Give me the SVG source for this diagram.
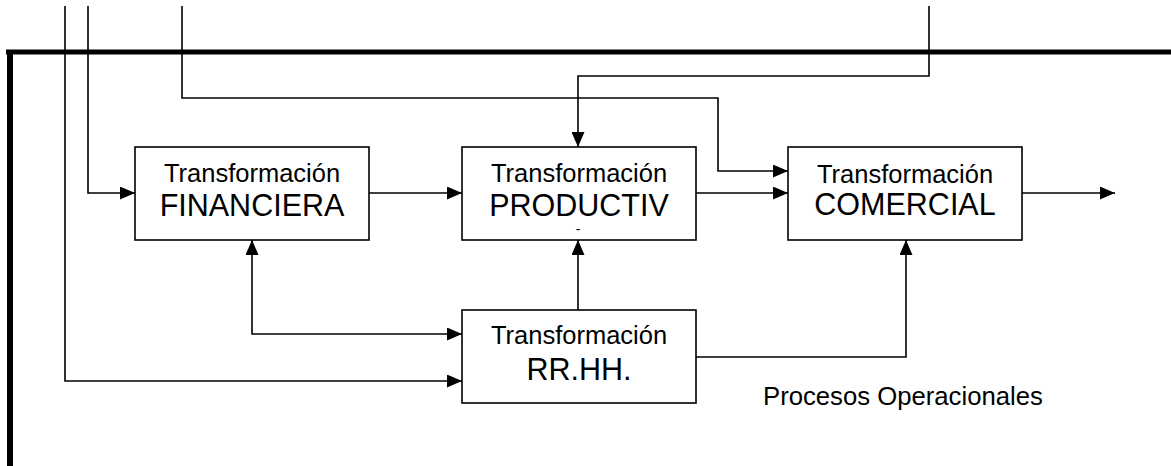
<svg xmlns="http://www.w3.org/2000/svg" width="1171" height="466" viewBox="0 0 1171 466">
<style>
.box{fill:#fff;stroke:#000;stroke-width:1.6}
.c{fill:none;stroke:#000;stroke-width:1.6}
.thick{fill:none;stroke:#000}
.t1{font-family:"Liberation Sans",Arial,sans-serif;font-size:25.5px;text-anchor:middle;fill:#000}
.t2{font-family:"Liberation Sans",Arial,sans-serif;font-size:30.5px;text-anchor:middle;fill:#000}
.lbl{font-family:"Liberation Sans",Arial,sans-serif;font-size:25.7px;fill:#000}
</style>
<defs>
<marker id="ah" markerUnits="userSpaceOnUse" markerWidth="15" markerHeight="13" refX="15" refY="6.5" orient="auto-start-reverse">
<path d="M0,0 L15,6.5 L0,13 z" fill="#000"/>
</marker>
</defs>
<rect width="1171" height="466" fill="#fff"/>
<g id="frame">
<path class="thick" stroke-width="5" d="M6,52 H1171"/>
<path class="thick" stroke-width="6" d="M10,50 V466"/>
</g>
<g id="connectors">
<path class="c" d="M65,6 V381 H462" marker-end="url(#ah)"/>
<path class="c" d="M88,6 V193 H135" marker-end="url(#ah)"/>
<path class="c" d="M182,6 V98 H718 V171 H788" marker-end="url(#ah)"/>
<path class="c" d="M929,6 V76 H578 V147" marker-end="url(#ah)"/>
<path class="c" d="M369,193 H462" marker-end="url(#ah)"/>
<path class="c" d="M696,193 H788" marker-end="url(#ah)"/>
<path class="c" d="M1022,193 H1115" marker-end="url(#ah)"/>
<path class="c" d="M252,240 V334 H462" marker-start="url(#ah)" marker-end="url(#ah)"/>
<path class="c" d="M578,310 V240" marker-end="url(#ah)"/>
<path class="c" d="M696,357 H906 V240" marker-end="url(#ah)"/>
</g>
<g id="financiera">
<rect class="box" x="135" y="147" width="234" height="93"/>
<text class="t1" x="252" y="182">Transformación</text>
<text class="t2" x="252" y="216">FINANCIERA</text>
</g>
<g id="productiva">
<rect class="box" x="462" y="147" width="234" height="93"/>
<text class="t1" x="579" y="182">Transformación</text>
<text class="t2" x="579" y="216">PRODUCTIV</text>
<text class="t1" x="578" y="234" style="font-size:14px">-</text>
</g>
<g id="comercial">
<rect class="box" x="788" y="147" width="234" height="93"/>
<text class="t1" x="905" y="183">Transformación</text>
<text class="t2" x="905" y="215">COMERCIAL</text>
</g>
<g id="rrhh">
<rect class="box" x="462" y="310" width="234" height="93"/>
<text class="t1" x="579" y="344">Transformación</text>
<text class="t2" x="579" y="380">RR.HH.</text>
</g>
<text class="lbl" x="763" y="405">Procesos Operacionales</text>
</svg>
